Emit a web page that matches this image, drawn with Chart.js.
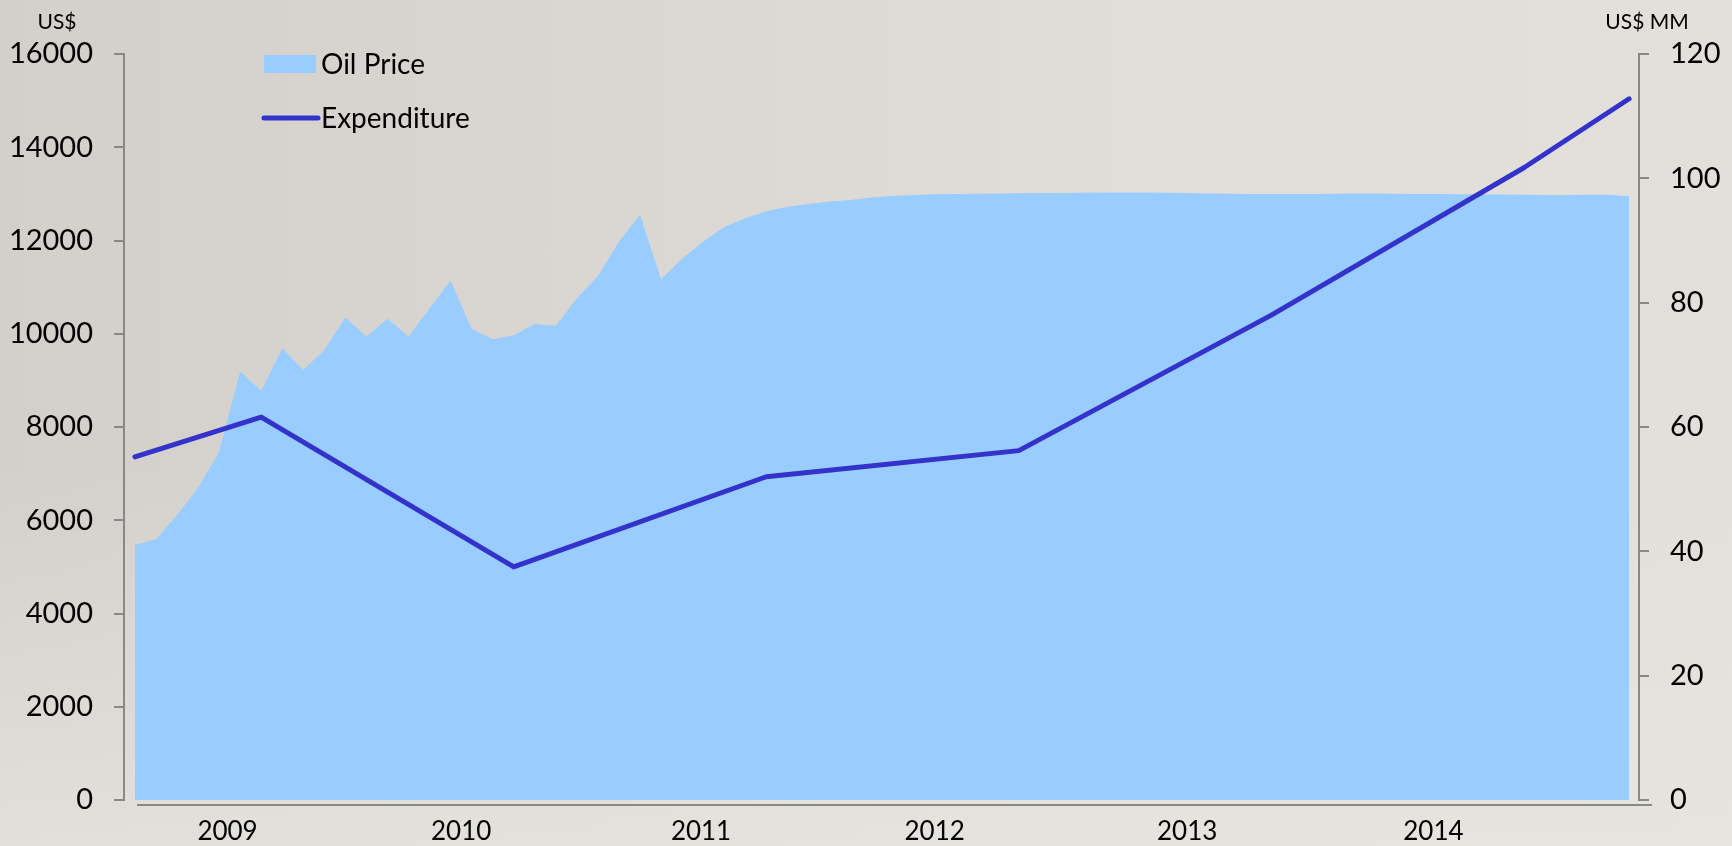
<!DOCTYPE html>
<html>
<head>
<meta charset="utf-8">
<script src="https://cdn.jsdelivr.net/npm/chart.js@4.4.1/dist/chart.umd.min.js"></script>
<style>
    html, body { margin: 0; padding: 0; width: 1732px; height: 846px; overflow: hidden; }
    body {
        background:
            linear-gradient(to bottom, rgba(232, 230, 225, 0) 55%, rgba(232, 230, 225, 0.7) 100%),
            linear-gradient(to right, #d3d0cb 0%, #dad7d2 35%, #e1ded9 65%, #e3e0db 100%);
    }
</style>
</head>
<body>
<canvas id="oilChart" width="1732" height="846"></canvas>
<script>
// monthly oil price (US$)
const oilPrice = [
    5470, 5590, 6110, 6690, 7470, 9190, 8780, 9690, 9220, 9650, 10350, 9940,
    10320, 9940, 10540, 11140, 10100, 9880, 9970, 10210, 10170, 10760, 11240, 11975,
    12550, 11170, 11610, 11975, 12290, 12475, 12630, 12725, 12785, 12835, 12870, 12920,
    12955, 12975, 12990, 13000, 13005, 13010, 13015, 13020, 13020, 13025, 13030, 13030,
    13030, 13025, 13020, 13010, 13005, 13000, 13000, 13000, 13000, 13005, 13010, 13010,
    13005, 13000, 12995, 12990, 12990, 12985, 12980, 12975, 12975, 12980, 12980, 12950
];
// expenditure is only given at a few months (US$ MM)
const expenditureMonth = [0, 6, 18, 30, 42, 54, 66, 71];
const expenditure = [55.2, 61.6, 37.5, 52.0, 56.2, 78.0, 101.7, 112.8];

const yearLabels = ['2009', '2010', '2011', '2012', '2013', '2014'];
const yearTickMonth = [4.4, 15.5, 26.9, 38.0, 50.0, 61.7];

const AXIS_COLOR = '#888888';
const AREA_COLOR = '#99ccff';
const LINE_COLOR = '#3333cc';
const FONT = 'Lato, "Open Sans", sans-serif';

Chart.defaults.font.family = FONT;
Chart.defaults.color = '#000000';

const overlayPlugin = {
    id: 'overlay',
    afterDraw(chart) {
        const ctx = chart.ctx;
        const area = chart.chartArea;
        const sets = chart.data.datasets;
        ctx.save();

        // category axis line sits a little under the plot and runs past the right axis
        ctx.strokeStyle = AXIS_COLOR;
        ctx.lineWidth = 2;
        ctx.beginPath();
        ctx.moveTo(area.left + 13, area.bottom + 5);
        ctx.lineTo(area.right + 13, area.bottom + 5);
        ctx.stroke();

        // unit titles above both value axes
        ctx.fillStyle = '#000000';
        ctx.font = '21px ' + FONT;
        ctx.textAlign = 'center';
        ctx.textBaseline = 'middle';
        ctx.fillText('US$', 57, 22);
        ctx.fillText('US$ MM', 1647, 22);

        // legend, stacked inside the plot
        const lx = 264, ly = 64, gap = 54;
        ctx.font = '28px ' + FONT;
        ctx.textAlign = 'left';
        sets.forEach((ds, i) => {
            const y = ly + i * gap;
            if (ds.fill) {
                ctx.fillStyle = ds.backgroundColor;
                ctx.fillRect(lx, y - 9, 52, 18);
            } else {
                ctx.strokeStyle = ds.borderColor;
                ctx.lineWidth = 5;
                ctx.lineCap = 'round';
                ctx.beginPath();
                ctx.moveTo(lx, y);
                ctx.lineTo(lx + 54, y);
                ctx.stroke();
            }
            ctx.fillStyle = '#000000';
            ctx.fillText(ds.label, lx + 57, y + 1);
        });
        ctx.restore();
    }
};

new Chart(document.getElementById('oilChart').getContext('2d'), {
    type: 'line',
    data: {
        datasets: [
            {
                type: 'line',
                label: 'Oil Price',
                data: oilPrice.map((v, i) => ({ x: i, y: v })),
                yAxisID: 'yPrice',
                fill: 'origin',
                backgroundColor: AREA_COLOR,
                borderWidth: 0,
                pointRadius: 0,
                tension: 0,
                order: 2
            },
            {
                type: 'line',
                label: 'Expenditure',
                data: expenditure.map((v, i) => ({ x: expenditureMonth[i], y: v })),
                yAxisID: 'ySpend',
                fill: false,
                borderColor: LINE_COLOR,
                borderWidth: 5,
                borderCapStyle: 'round',
                borderJoinStyle: 'round',
                pointRadius: 0,
                tension: 0,
                order: 1
            }
        ]
    },
    options: {
        responsive: false,
        animation: false,
        devicePixelRatio: 1,
        layout: { padding: { top: 54, left: 0, right: 0, bottom: 0 } },
        plugins: {
            legend: { display: false },
            tooltip: { enabled: false }
        },
        scales: {
            x: {
                type: 'linear',
                min: -0.52,
                max: 71.47,
                afterBuildTicks: (scale) => {
                    scale.ticks = yearTickMonth.map(v => ({ value: v }));
                },
                afterFit: (scale) => { scale.height = 46; },
                grid: { display: false },
                border: { display: false },
                ticks: {
                    autoSkip: false,
                    maxRotation: 0,
                    padding: 8,
                    font: { size: 26 },
                    callback: (value, index) => yearLabels[index]
                }
            },
            yPrice: {
                position: 'left',
                min: 0,
                max: 16000,
                afterFit: (scale) => { scale.width = 124; },
                grid: { drawOnChartArea: false, color: AXIS_COLOR, lineWidth: 2, tickLength: 10 },
                border: { color: AXIS_COLOR, width: 2 },
                ticks: { stepSize: 2000, padding: 21, font: { size: 29 }, callback: (v) => String(v) }
            },
            ySpend: {
                position: 'right',
                min: 0,
                max: 120,
                afterFit: (scale) => { scale.width = 93; },
                grid: { drawOnChartArea: false, color: AXIS_COLOR, lineWidth: 2, tickLength: 10 },
                border: { color: AXIS_COLOR, width: 2 },
                ticks: { stepSize: 20, padding: 21, font: { size: 29 }, callback: (v) => String(v) }
            }
        }
    },
    plugins: [overlayPlugin]
});
</script>
</body>
</html>
